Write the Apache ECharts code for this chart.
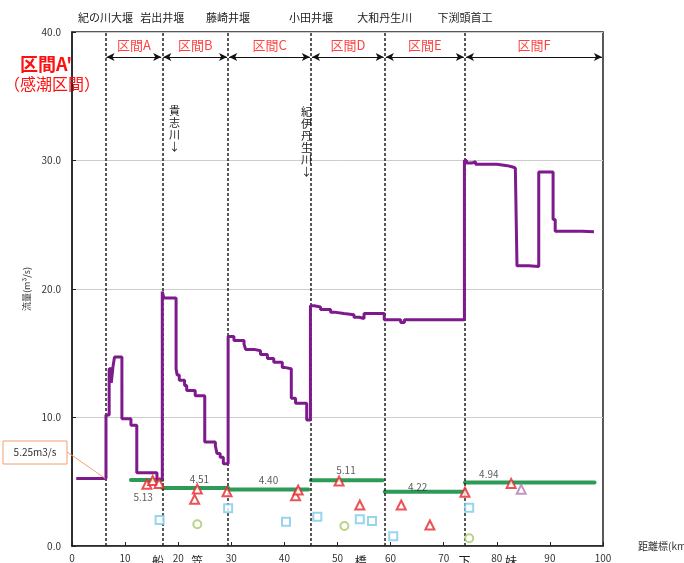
<!DOCTYPE html>
<html>
<head>
<meta charset="utf-8">
<script src="https://cdn.jsdelivr.net/npm/echarts@6/dist/echarts.min.js"></script>
<style>
  html, body { margin: 0; padding: 0; background: #fff; }
  #chart { width: 684px; height: 563px; }
</style>
</head>
<body>
<div id="chart"></div>
<script>
// 流量縦断図 (km / m3/s)
var flowKm = [0.8, 6.4, 7.0, 7.4, 7.7, 8.0, 9.4, 11.1, 12.2, 16.0,
  17.0, 17.3, 19.6, 19.8, 20.2, 21.2, 21.6, 23.2, 25.0, 27.0, 27.3, 27.9, 28.5,
  29.4, 30.5, 32.4, 32.7, 34.3, 35.5, 36.8, 38.0, 39.6, 40.0, 41.3, 42.1, 44.2,
  44.9, 45.6, 46.8, 48.7, 49.4, 51.2, 53.1, 54.1, 55.0,
  58.8, 61.9, 62.6,
  73.9, 74.3, 75.3, 76.0, 80.0, 82.0, 83.0, 83.5, 83.8, 86.0, 87.9, 90.6, 91.0, 96.0, 98.3];
var flowQ = [5.25, 10.2, 13.8, 12.7, 13.9, 14.7, 9.9, 9.4, 5.7, 5.2,
  19.8, 19.3, 13.8, 13.3, 12.9, 12.5, 12.1, 11.7, 8.1, 7.8, 7.2, 6.9, 6.4,
  16.3, 16.0, 15.7, 15.3, 15.2, 14.9, 14.6, 14.3, 13.9, 13.8, 11.5, 11.1, 9.8,
  18.7, 18.6, 18.4, 18.2, 18.1, 18.0, 17.8, 17.7, 18.1,
  17.6, 17.4, 17.6,
  30.0, 29.8, 29.9, 29.7, 29.6, 29.5, 29.4, 29.2, 21.8, 21.75, 29.1, 25.4, 24.5, 24.45, 24.45];

// 区間ごとの目標流量 (緑線)
var greenStart = [11.1, 17.0, 29.4, 45.0, 58.9, 74.0];
var greenEnd = [17.0, 29.4, 44.5, 58.5, 73.9, 98.4];
var greenVal = [5.13, 4.51, 4.40, 5.11, 4.22, 4.94];
var greenLabelKm = [13.4, 24.0, 37.0, 51.6, 65.1, 78.5];

// 観測点
var triKm = [14.1, 15.2, 16.4, 23.1, 23.6, 29.2, 42.1, 42.6, 50.3, 54.2, 62.0, 67.4, 74.0, 82.7];
var triQ = [4.8, 5.1, 4.87, 3.63, 4.43, 4.22, 3.91, 4.35, 5.05, 3.19, 3.19, 1.63, 4.18, 4.87];
var pinkKm = [84.6];
var pinkQ = [4.41];
var sqKm = [16.5, 29.4, 40.3, 46.2, 54.2, 56.5, 60.5, 74.8];
var sqQ = [2.02, 2.93, 1.89, 2.28, 2.08, 1.94, 0.75, 2.98];
var ciKm = [23.6, 51.3, 74.8];
var ciQ = [1.69, 1.55, 0.6];

// 区間境界と施設名
var bounds = [6.3, 17.0, 29.4, 45.0, 58.9, 74.0, 100];
var weirNames = ['紀の川大堰', '岩出井堰', '藤崎井堰', '小田井堰', '大和丹生川', '下渕頭首工'];
var sectionNames = ['区間A', '区間B', '区間C', '区間D', '区間E', '区間F'];
var stationKm = [16.2, 23.6, 54.4, 73.9, 82.7];
var stationNames = ['船', '笠', '橋', '下', '妹'];

var xTicks = [0, 100, 10];
var yTicks = [0, 40, 10];

var FONT = '"Noto Sans CJK JP", "Noto Sans", sans-serif';
var chart = echarts.init(document.getElementById('chart'));

function zip(a, b) { return a.map(function (v, i) { return [v, b[i]]; }); }

var labelDy = [17, -9, -9, -10, -5, -8];

var series = [];
series.push({
  type: 'line', name: 'flow', step: 'end', data: zip(flowKm, flowQ),
  symbol: 'none', z: 5,
  lineStyle: { color: '#7d1a8c', width: 3 },
  markLine: {
    silent: true, symbol: 'none', animation: false,
    lineStyle: { color: '#222', type: [3, 2], width: 1.5 },
    label: { position: 'end', distance: 9, fontSize: 11, color: '#222', fontFamily: FONT },
    data: bounds.slice(0, 6).map(function (x, i) {
      return { xAxis: x, label: { formatter: weirNames[i] } };
    })
  }
});
greenVal.forEach(function (v, i) {
  var s = {
    type: 'line', data: [[greenStart[i], v], [greenEnd[i], v]], symbol: 'none', z: 4,
    lineStyle: { color: '#2e9a58', width: 4, cap: 'round' }
  };
  if (i === 0) {
    s.markLine = {
      silent: true, animation: false, symbol: ['arrow', 'arrow'], symbolSize: [6, 8],
      lineStyle: { color: '#111', type: 'solid', width: 1 },
      label: { show: false },
      data: bounds.slice(0, 6).map(function (x, k) {
        return [{ coord: [x + 0.2, 38.05] }, { coord: [bounds[k + 1] - 0.2, 38.05] }];
      })
    };
  }
  series.push(s);
});
series.push({
  type: 'scatter', symbolSize: 0, z: 6,
  data: greenLabelKm.map(function (x, i) {
    return { value: [x, greenVal[i]], label: { offset: [0, labelDy[i]] } };
  }),
  label: {
    show: true, position: 'inside', fontSize: 10, color: '#333', fontFamily: FONT,
    formatter: function (p) { return p.value[1].toFixed(2); }
  }
});
series.push({
  type: 'scatter', symbol: 'emptyTriangle', symbolSize: 9, z: 7,
  itemStyle: { color: '#e8262a', borderWidth: 1.5 }, data: zip(triKm, triQ)
});
series.push({
  type: 'scatter', symbol: 'emptyTriangle', symbolSize: 9, z: 7,
  itemStyle: { color: '#b27bb8', borderWidth: 1.5 }, data: zip(pinkKm, pinkQ)
});
series.push({
  type: 'scatter', symbol: 'emptyRect', symbolSize: 8, z: 7,
  itemStyle: { color: '#7ccbea', borderWidth: 1 }, data: zip(sqKm, sqQ)
});
series.push({
  type: 'scatter', symbol: 'emptyCircle', symbolSize: 8, z: 7,
  itemStyle: { color: '#a8c86a', borderWidth: 1 }, data: zip(ciKm, ciQ)
});
series.push({
  type: 'scatter', symbolSize: 0, z: 8,
  data: sectionNames.map(function (n, i) {
    return { value: [(bounds[i] + bounds[i + 1]) / 2, 39.0], name: n };
  }),
  label: {
    show: true, position: 'inside', fontSize: 13, color: '#ff1010', fontFamily: FONT,
    formatter: function (p) { return p.name; }
  }
});

chart.setOption({
  animation: false,
  grid: { left: 72, right: 81, top: 32, bottom: 17, outerBoundsMode: 'none',
    show: true, borderColor: '#222', borderWidth: 1.5 },
  xAxis: {
    type: 'value', min: xTicks[0], max: xTicks[1], interval: xTicks[2],
    name: '距離標(km)', nameLocation: 'end', nameGap: 35,
    nameTextStyle: { fontSize: 10, color: '#333', fontFamily: FONT, verticalAlign: 'middle', padding: [10, 0, 0, 0] },
    axisLine: { lineStyle: { color: '#222', width: 1.5 } },
    axisTick: { inside: true, length: 4, lineStyle: { color: '#222' } },
    axisLabel: { fontSize: 10, color: '#333', margin: 7, fontFamily: FONT },
    splitLine: { show: false }
  },
  yAxis: {
    type: 'value', min: yTicks[0], max: yTicks[1], interval: yTicks[2],
    name: '流量(m³/s)', nameLocation: 'middle', nameGap: 29,
    nameTextStyle: { fontSize: 9, color: '#333', fontFamily: FONT },
    axisLine: { show: true, lineStyle: { color: '#222', width: 1.5 } },
    axisTick: { show: true, inside: true, length: 4, lineStyle: { color: '#222' } },
    axisLabel: { fontSize: 10, color: '#333', margin: 11, fontFamily: FONT,
      formatter: function (v) { return v.toFixed(1); } },
    splitLine: { lineStyle: { color: '#cccccc', width: 1 } }
  },
  series: series
});

// 注記類
var graphics = [];
var target = chart.convertToPixel({ gridIndex: 0 }, [bounds[0], flowQ[0]]);
graphics.push({ type: 'line', shape: { x1: 67, y1: 452, x2: target[0], y2: target[1] },
  style: { stroke: '#f2a470', lineWidth: 1 }, z: 20 });
graphics.push({ type: 'rect', shape: { x: 3, y: 441, width: 64, height: 23 },
  style: { fill: '#fff', stroke: '#f0a070', lineWidth: 1 }, z: 20 });
graphics.push({ type: 'text', x: 35, y: 452.5, z: 21,
  style: { text: '5.25m3/s', fontSize: 10, fill: '#333', align: 'center', verticalAlign: 'middle', fontFamily: FONT } });
graphics.push({ type: 'text', x: 46, y: 64, z: 21,
  style: { text: "区間A'", fontSize: 18, fontWeight: 'bold', fill: '#ff1010', align: 'center', verticalAlign: 'middle', fontFamily: FONT } });
graphics.push({ type: 'text', x: 52, y: 84, z: 21,
  style: { text: '（感潮区間）', fontSize: 16, fill: '#ff1010', align: 'center', verticalAlign: 'middle', fontFamily: FONT } });
var p1 = chart.convertToPixel({ gridIndex: 0 }, [19.3, 0]);
graphics.push({ type: 'text', x: p1[0], y: 105, z: 21,
  style: { text: '貴\n志\n川\n↓', fontSize: 11, lineHeight: 12, fill: '#222', align: 'center', verticalAlign: 'top', fontFamily: FONT } });
var p2 = chart.convertToPixel({ gridIndex: 0 }, [44.15, 0]);
graphics.push({ type: 'text', x: p2[0], y: 106, z: 21,
  style: { text: '紀\n伊\n丹\n生\n川\n↓', fontSize: 11, lineHeight: 12, fill: '#222', align: 'center', verticalAlign: 'top', fontFamily: FONT } });
stationKm.forEach(function (km, i) {
  var p = chart.convertToPixel({ gridIndex: 0 }, [km, 0]);
  graphics.push({ type: 'text', x: p[0], y: 555, z: 21,
    style: { text: stationNames[i], fontSize: 12, fill: '#222', align: 'center', verticalAlign: 'top', fontFamily: FONT } });
});
chart.setOption({ graphic: graphics });
</script>
</body>
</html>
